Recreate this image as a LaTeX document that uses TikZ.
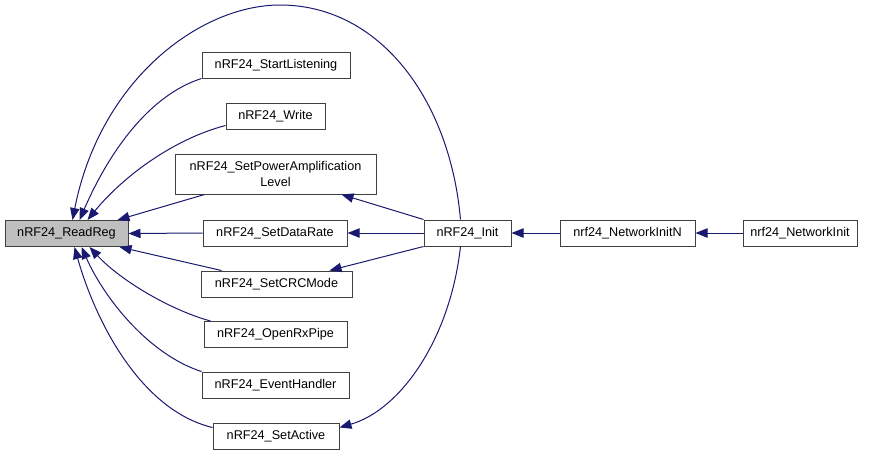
\documentclass[tikz,border=0pt]{standalone}
\usepackage{fontspec}
\setmainfont{Liberation Sans}
\usetikzlibrary{arrows.meta,calc}
\definecolor{edgeblue}{HTML}{191970}
\definecolor{boxgray}{HTML}{BFBFBF}
\begin{document}
\begin{tikzpicture}[x=0.75pt,y=-0.75pt,
  box/.style={draw=black!75, line width=0.75pt, fill=white, inner sep=0pt,
    font=\fontsize{9.5}{12}\selectfont, align=center, minimum height=19.5pt},
  edge/.style={draw=edgeblue, line width=0.75pt,
    -{Triangle[length=9pt,width=7pt,fill=edgeblue]}}]
\useasboundingbox (0,0) rectangle (875,455);
% nodes
\node[box, fill=boxgray, minimum width=92.25pt] (rr) at (66.5,233.5) {nRF24\_ReadReg};
\node[box, minimum width=111pt] (sl) at (276,65) {nRF24\_StartListening};
\node[box, minimum width=74.25pt] (wr) at (275.5,116) {nRF24\_Write};
\node[box, minimum width=150.75pt, minimum height=30pt] (spa) at (275.5,174) {nRF24\_SetPowerAmplification\\Level};
\node[box, minimum width=108pt] (sdr) at (275,233) {nRF24\_SetDataRate};
\node[box, minimum width=113.25pt] (crc) at (276.5,284) {nRF24\_SetCRCMode};
\node[box, minimum width=107.25pt] (orx) at (275.5,334.5) {nRF24\_OpenRxPipe};
\node[box, minimum width=110.25pt] (evh) at (275.5,385) {nRF24\_EventHandler};
\node[box, minimum width=94.5pt] (sa) at (276,436) {nRF24\_SetActive};
\node[box, minimum width=65.25pt] (ini) at (467.5,233) {nRF24\_Init};
\node[box, minimum width=101.25pt] (nin) at (627.5,233) {nrf24\_NetworkInitN};
\node[box, minimum width=85.5pt] (ni) at (800,233) {nrf24\_NetworkInit};
% edges into ReadReg
\draw[edge] ($(ini.north west)+(37,0)$) .. controls (450,100) and (380,5) .. (280,5)
  .. controls (200,5) and (100,80) .. ($(rr.north west)+(68,0)$);
\draw[edge] (sl.south west) .. controls (150,95) and (110,150) .. ($(rr.north west)+(75,0)$);
\draw[edge] ($(wr.south west)+(0,-4)$) .. controls (170,140) and (120,180) .. ($(rr.north west)+(83,0)$);
\draw[edge] ($(spa.south west)+(30,0)$) -- ($(rr.north west)+(113,0)$);
\draw[edge] (sdr.west) -- (rr.east);
\draw[edge] ($(crc.north west)+(21,0)$) -- ($(rr.south west)+(115,0)$);
\draw[edge] ($(orx.north west)+(7,0)$) .. controls (170,310) and (120,280) .. ($(rr.south west)+(85,0)$);
\draw[edge] (evh.north west) .. controls (150,355) and (105,300) .. ($(rr.south west)+(77,0)$);
\draw[edge] ($(sa.north west)+(0,5)$) .. controls (140,410) and (95,320) .. ($(rr.south west)+(70,0)$);
% edges from Init
\draw[edge] (ini.north west) -- ($(spa.south west)+(167,0)$);
\draw[edge] (ini.west) -- (sdr.east);
\draw[edge] (ini.south west) -- ($(crc.north west)+(129,0)$);
\draw[edge] ($(ini.south west)+(37,0)$) .. controls (450,340) and (400,410) .. ($(sa.north east)+(0,5)$);
\draw[edge] (nin.west) -- (ini.east);
\draw[edge] (ni.west) -- (nin.east);
\end{tikzpicture}
\end{document}
